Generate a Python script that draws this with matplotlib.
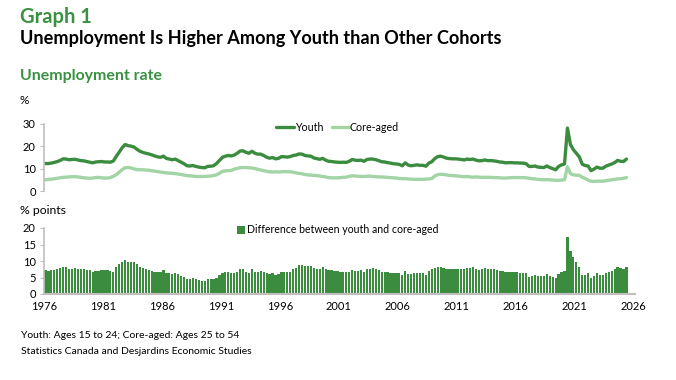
import matplotlib.pyplot as plt
import numpy as np
import pandas as pd

plt.rcParams['font.family'] = ['Lato', 'DejaVu Sans']

# Quarterly unemployment rates, 1976Q1 to 2025Q2 (%)
youth = [
    12.3, 12.3, 12.5, 12.8, 13.2, 13.7, 14.4, 14.3, 14.0, 14.1, 14.2, 13.9,   # 1976-78
    13.6, 13.5, 13.2, 12.9, 12.6, 13.0, 13.1, 13.2, 13.0, 13.0, 12.9, 13.4,   # 1979-81
    15.5, 17.4, 19.4, 20.8, 20.3, 20.1, 19.7, 18.7, 17.8, 17.3, 16.9, 16.6,   # 1982-84
    16.2, 15.7, 15.3, 15.1, 15.6, 14.6, 14.3, 14.0, 14.3, 13.6, 12.9, 12.2,   # 1985-87
    11.3, 11.2, 11.4, 11.0, 10.7, 10.5, 10.4, 11.0, 11.1, 11.3, 12.3, 13.7,   # 1988-90
    15.1, 15.6, 15.9, 15.7, 16.1, 16.9, 17.9, 18.0, 17.3, 16.9, 17.8, 16.9,   # 1991-93
    16.5, 16.5, 15.9, 15.1, 14.7, 15.0, 14.4, 14.6, 15.4, 15.3, 15.2, 15.4,   # 1994-96
    15.9, 16.1, 16.6, 16.5, 15.9, 15.7, 15.6, 14.8, 14.5, 14.2, 14.6, 13.8,   # 1997-99
    13.3, 13.2, 13.0, 12.9, 12.8, 12.9, 12.8, 13.3, 14.1, 13.8, 13.7, 13.8,   # 2000-02
    13.3, 14.1, 14.3, 14.3, 14.0, 13.6, 13.1, 13.0, 12.7, 12.5, 12.2, 12.1,   # 2003-05
    11.9, 11.3, 12.6, 11.6, 11.3, 11.5, 11.7, 11.5, 11.5, 11.1, 12.5, 13.1,   # 2006-08
    14.5, 15.4, 15.6, 15.2, 14.7, 14.5, 14.4, 14.4, 14.3, 14.1, 13.9, 14.3,   # 2009-11
    14.1, 14.3, 13.8, 13.5, 13.6, 13.9, 13.6, 13.6, 13.5, 13.3, 13.0, 12.9,   # 2012-14
    12.6, 12.7, 12.7, 12.6, 12.6, 12.5, 12.5, 12.2, 11.0, 11.0, 11.2, 10.7,   # 2015-17
    10.6, 10.5, 11.2, 10.5, 10.0, 9.5, 11.0, 11.7, 12.1, 28.2, 20.8, 18.5,    # 2018-20
    16.9, 15.3, 12.0, 11.4, 11.2, 9.1, 9.8, 10.7, 10.2, 10.2, 11.1, 11.6,     # 2021-23
    12.1, 12.7, 13.7, 13.3, 13.2, 14.3,                                       # 2024-25
]
core_aged = [
    5.0, 5.2, 5.3, 5.5, 5.7, 5.9, 6.1, 6.2, 6.3, 6.4, 6.4, 6.3,
    6.1, 5.9, 5.8, 5.7, 5.8, 6.0, 6.1, 5.9, 5.8, 5.8, 6.0, 6.6,
    7.3, 8.4, 9.6, 10.4, 10.5, 10.3, 9.9, 9.6, 9.5, 9.5, 9.4, 9.3,
    9.1, 8.9, 8.7, 8.5, 8.3, 8.1, 8.0, 7.9, 7.8, 7.6, 7.4, 7.1,
    6.9, 6.8, 6.7, 6.5, 6.5, 6.5, 6.5, 6.6, 6.7, 6.9, 7.3, 7.9,
    8.8, 9.0, 9.1, 9.2, 9.8, 10.1, 10.4, 10.5, 10.5, 10.4, 10.3, 10.1,
    9.7, 9.4, 9.1, 8.8, 8.6, 8.5, 8.6, 8.5, 8.6, 8.7, 8.6, 8.6,
    8.4, 8.1, 7.9, 7.7, 7.4, 7.2, 7.1, 7.0, 6.9, 6.7, 6.5, 6.3,
    6.0, 5.9, 5.9, 5.9, 6.0, 6.1, 6.2, 6.6, 6.8, 6.7, 6.6, 6.5,
    6.5, 6.6, 6.7, 6.5, 6.4, 6.3, 6.3, 6.2, 6.1, 6.0, 5.9, 5.8,
    5.6, 5.5, 5.5, 5.4, 5.3, 5.2, 5.2, 5.2, 5.2, 5.3, 5.4, 5.6,
    6.7, 7.3, 7.5, 7.4, 7.2, 7.0, 6.9, 6.8, 6.7, 6.5, 6.4, 6.5,
    6.3, 6.2, 6.3, 6.2, 6.1, 6.1, 6.1, 6.1, 6.0, 6.0, 5.9, 5.8,
    5.8, 5.9, 6.0, 6.0, 6.0, 6.0, 6.0, 5.9, 5.7, 5.5, 5.4, 5.2,
    5.1, 5.0, 5.1, 5.0, 4.9, 4.8, 4.8, 4.9, 5.1, 10.8, 7.8, 7.2,
    7.1, 7.0, 6.2, 5.6, 4.9, 4.4, 4.3, 4.4, 4.4, 4.4, 4.6, 4.8,
    5.0, 5.2, 5.4, 5.5, 5.7, 6.0,
]
tick_years = [1976, 1981, 1986, 1991, 1996, 2001, 2006, 2011, 2016, 2021, 2026]

quarters = pd.period_range('1976Q1', periods=len(youth), freq='Q')
x = quarters.year + (quarters.quarter - 0.5) / 4
youth = np.array(youth)
core_aged = np.array(core_aged)
gap = youth - core_aged

dark = '#3B8C3F'
light = '#A2D4A5'
title_green = '#3A9142'
grey = '#BFBFBF'

fig = plt.figure(figsize=(6.76, 3.8), dpi=100)
W, H = 676, 380

fig.text(20 / W, 1 - 7 / H, 'Graph 1', color=title_green, fontsize=14.5,
         fontweight='bold', va='top')
fig.text(20 / W, 1 - 30 / H, 'Unemployment Is Higher Among Youth than Other Cohorts',
         fontsize=13.1, fontweight='bold', va='top')
fig.text(20 / W, 1 - 69 / H, 'Unemployment rate', color=title_green, fontsize=11.4,
         fontweight='bold', va='top')
fig.text(20 / W, 1 - 101 / H, '%', fontsize=8.5, va='center')
fig.text(20 / W, 1 - 210 / H, '% points', fontsize=8.8, va='center')
fig.text(21 / W, 1 - 335 / H, 'Youth: Ages 15 to 24; Core-aged: Ages 25 to 54',
         fontsize=7.5, va='center')
fig.text(21 / W, 1 - 352 / H, 'Statistics Canada and Desjardins Economic Studies',
         fontsize=7.5, va='center')

left = 44 / W
width = 591 / W
ax1 = fig.add_axes([left, 1 - 191 / H, width, 67 / H])
ax2 = fig.add_axes([left, 1 - 294 / H, width, 66 / H])

ax1.plot(x, youth, color=dark, lw=2.4, label='Youth', solid_capstyle='round')
ax1.plot(x, core_aged, color=light, lw=2.4, label='Core-aged', solid_capstyle='round')
ax1.set_ylim(0, 30)
ax1.set_yticks([0, 10, 20, 30])
ax1.legend(loc='center', bbox_to_anchor=(0.497, 0.955), ncol=2, frameon=False,
           fontsize=7.7, handlelength=1.6, handletextpad=0.1, columnspacing=0.8,
           borderpad=0)

ax2.bar(x, gap, width=0.19, color=dark, label='Difference between youth and core-aged')
ax2.set_ylim(0, 20)
ax2.set_yticks([0, 5, 10, 15, 20])
ax2.legend(loc='center', bbox_to_anchor=(0.497, 0.97), frameon=False, fontsize=7.6,
           handlelength=0.8, handleheight=0.8, handletextpad=0.2, borderpad=0)

for ax in (ax1, ax2):
    ax.set_xlim(1976, 2026.1)
    for s in ('top', 'right'):
        ax.spines[s].set_visible(False)
    ax.spines['left'].set_color(grey)
    ax.spines['left'].set_linewidth(1.2)
    ax.tick_params(axis='y', length=3, color=grey, labelsize=8, pad=3)
    ax.set_xticks(tick_years)

ax1.spines['bottom'].set_visible(False)
ax1.tick_params(axis='x', length=0, labelbottom=False)
ax2.spines['bottom'].set_color(grey)
ax2.spines['bottom'].set_linewidth(1.5)
ax2.tick_params(axis='x', length=0, labelsize=8, pad=5)

fig.savefig('out.png', dpi=100)
plt.close(fig)
